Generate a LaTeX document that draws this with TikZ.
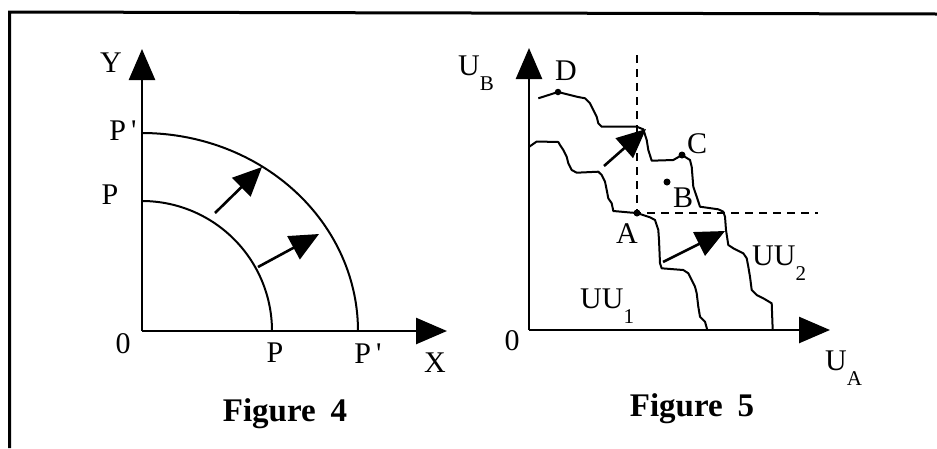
\documentclass[tikz,border=0pt]{standalone}
\usepackage{fontspec}
\setmainfont{Liberation Serif}
\usetikzlibrary{arrows.meta}
\begin{document}
\begin{tikzpicture}[x=1pt,y=-1pt,
  axis/.style={line width=2.6pt, -{Triangle[length=31pt,width=26pt]}},
  shiftarrow/.style={line width=2.6pt, -{Triangle[length=29pt,width=26pt]}},
  curve/.style={line width=2pt, line join=round},
  framel/.style={line width=3pt},
  guide/.style={line width=2pt, dash pattern=on 8pt off 6pt},
  lbl/.style={inner sep=0pt, anchor=base, font=\fontsize{30}{36}\selectfont},
  lblw/.style={lbl, anchor=base west},
  figcap/.style={inner sep=0pt, anchor=base, font=\fontsize{33}{40}\selectfont\bfseries},
  dot/.style={circle, fill, inner sep=0pt, minimum size=7pt}]
\useasboundingbox (0,0) rectangle (937,448);
\newcommand{\subtxt}[1]{\raisebox{-15pt}{\fontsize{21}{24}\selectfont #1}}
% frame
\coordinate (fbl) at (9.5,448);
\coordinate (ftl) at (9.5,12);
\coordinate (ftr) at (937,14);
\draw[framel] (fbl) -- (ftl) -- (ftr);

% ---------------- Figure 4 ----------------
\coordinate (o4) at (142,331);
\coordinate (y4) at (142,49);
\coordinate (x4) at (447,331);
\draw[curve] plot[domain=0:90, samples=80] ({142+130*cos(\x)}, {331-130*sin(\x)});
\draw[curve] plot[domain=0:90, samples=80] ({142+216*cos(\x)}, {331-198*sin(\x)});
\draw[axis] (o4) -- (y4);
\draw[axis] (o4) -- (x4);
\coordinate (a1s) at (215,213);
\coordinate (a1e) at (262,167);
\coordinate (a2s) at (258,267);
\coordinate (a2e) at (319,234);
\draw[shiftarrow] (a1s) -- (a1e);
\draw[shiftarrow] (a2s) -- (a2e);
\node[lbl] (lY) at (111,72) {Y};
\node[lbl] (lPp1) at (123,140) {P\,\textquotesingle};
\node[lbl] (lP1) at (110,204) {P};
\node[lbl] (l04) at (123,353) {0};
\node[lbl] (lP2) at (275,362) {P};
\node[lbl] (lPp2) at (368,363) {P\,\textquotesingle};
\node[lbl] (lX) at (435,372) {X};
\node[figcap] (f4) at (285,421) {Figure\hspace{0.45em}4};

% ---------------- Figure 5 ----------------
\coordinate (o5) at (529,330);
\coordinate (y5) at (529,48);
\coordinate (x5) at (830,330);
\coordinate (vtop) at (637,55);
\coordinate (hend) at (818,213);
\node[dot] (A) at (637,213) {};
\node[dot] (B) at (667,182) {};
\node[dot] (C) at (682,155) {};
\node[dot, minimum size=6.5pt] (D) at (558,92) {};
\draw[guide] (vtop) -- (A.center) -- (hend);
% UU1
\draw[curve] (529.3,146.7) -- (536.7,141.5) -- (558.3,142) -- (560,145) -- (563.3,150) -- (566.7,156.7)
  -- (568.3,163.3) -- (571.7,170) -- (576.7,172.7) -- (598.3,171.7) -- (601.7,175) -- (605,181.7)
  -- (606.7,190) -- (608.3,198.3) -- (611.7,203.3) -- (613.3,211) -- (630,212.5) -- (A.center)
  -- (650,217.3) -- (655,220) -- (658.3,230) -- (659,240) -- (660,263.3) -- (661.7,268.3)
  -- (683.3,270) -- (688.3,273.3) -- (691.7,280) -- (695,286.7) -- (696.7,293.3) -- (698.3,306.7)
  -- (700,316.7) -- (705,321.7) -- (707.3,330);
% UU2
\draw[curve] (538.3,98.3) -- (D.center) -- (576.7,96.7) -- (585,98.3) -- (590,103.3) -- (593.3,110)
  -- (596.7,116.7) -- (598.3,123.3) -- (601.7,126.7) -- (636.7,126.7) -- (643.3,129.3) -- (646.7,140)
  -- (648.3,150) -- (651.7,160.7) -- (673.3,160) -- (C.center) -- (690,160) -- (691.7,166.7)
  -- (693.3,186.7) -- (696.7,196.7) -- (700,206.7) -- (718.3,209.3) -- (723.3,211.7) -- (725,216.7)
  -- (726,230) -- (728.3,245) -- (733.3,248.3) -- (743.3,253.3) -- (746.7,258.3) -- (748.3,266.7)
  -- (750,276.7) -- (751.7,290) -- (756.7,295) -- (763.3,298.3) -- (771.7,303.3) -- (772.7,330);
\draw[axis] (o5) -- (y5);
\draw[axis] (o5) -- (x5);
\coordinate (b1s) at (604,166);
\coordinate (b1e) at (646,129);
\coordinate (b2s) at (663,262);
\coordinate (b2e) at (725,231);
\draw[shiftarrow] (b1s) -- (b1e);
\draw[shiftarrow] (b2s) -- (b2e);
\node[lblw] (lUB) at (458,75) {U\subtxt{B}};
\node[lbl] (lD) at (566,80) {D};
\node[lbl] (lC) at (697,153) {C};
\node[lbl] (lB) at (683,207) {B};
\node[lbl] (lA) at (627,243) {A};
\node[lblw] (lUU1) at (580,308) {UU\subtxt{1}};
\node[lblw] (lUU2) at (752,265) {UU\subtxt{2}};
\node[lbl] (l05) at (512,350) {0};
\node[lblw] (lUA) at (825,370) {U\subtxt{A}};
\node[figcap] (f5) at (692,416) {Figure\hspace{0.45em}5};
\end{tikzpicture}
\end{document}
